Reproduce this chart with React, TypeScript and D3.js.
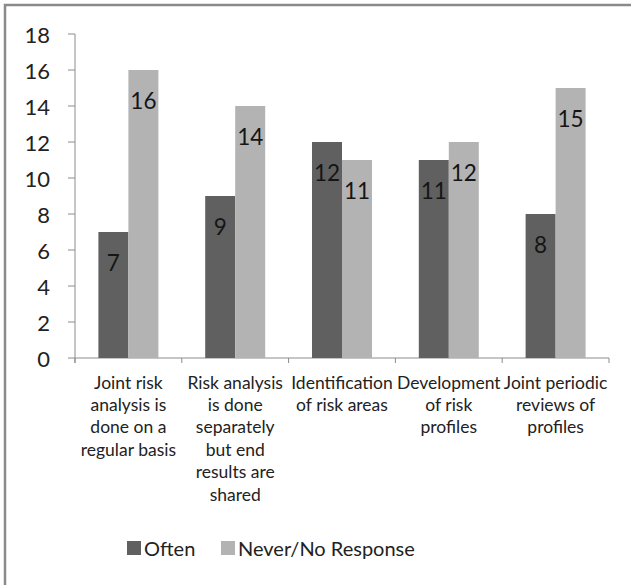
import React from "react";
import * as d3 from "d3";

const categories = [
  "Joint risk analysis is done on a regular basis",
  "Risk analysis is done separately but end results are shared",
  "Identification of risk areas",
  "Development of risk profiles",
  "Joint periodic reviews of profiles",
];
const categoryLines = [
  ["Joint risk", "analysis is", "done on a", "regular basis"],
  ["Risk analysis", "is done", "separately", "but end", "results are", "shared"],
  ["Identification", "of risk areas"],
  ["Development", "of risk", "profiles"],
  ["Joint periodic", "reviews of", "profiles"],
];
const seriesNames = ["Often", "Never/No Response"];
const oftenValues = [7, 9, 12, 11, 8];
const neverValues = [16, 14, 11, 12, 15];
const yTicks = [0, 2, 4, 6, 8, 10, 12, 14, 16, 18];
const seriesColors = ["#606060", "#b3b3b3"];

const W = 631;
const H = 585;
const FONT = "Lato, 'Open Sans', sans-serif";

export default function App() {
  const x0 = 75;
  const x1 = 609;
  const yBase = 358;
  const yTop = 34;

  const x = d3.scaleBand<string>().domain(categories).range([x0, x1]).padding(0);
  const inner = d3
    .scaleBand<string>()
    .domain(seriesNames)
    .range([0, x.bandwidth()])
    .paddingInner(0)
    .paddingOuter(0.78);
  const y = d3.scaleLinear().domain([0, 18]).range([yBase, yTop]);

  const series = [oftenValues, neverValues];

  const boundaries = categories.map((c) => x(c) as number).concat([x1]);

  return (
    <svg
      width={W}
      height={H}
      style={{ position: "absolute", left: 0, top: 0, background: "#fff" }}
      fontFamily={FONT}
      fontWeight={400}
    >
      <rect x={0} y={0} width={W} height={H} fill="#fff" />
      <rect x={5} y={5} width={W + 50} height={H + 50} fill="none" stroke="#8a8a8a" strokeWidth={2.5} />

      {/* y axis */}
      <line x1={x0} x2={x0} y1={yTop} y2={yBase + 5} stroke="#8c8c8c" strokeWidth={1} />
      {yTicks.map((t) => (
        <g key={t}>
          <line x1={x0 - 7} x2={x0} y1={y(t)} y2={y(t)} stroke="#8c8c8c" strokeWidth={1} />
          <text
            x={50}
            y={y(t)}
            textAnchor="end"
            dominantBaseline="central"
            fontSize={22}
            fill="#222"
          >
            {t}
          </text>
        </g>
      ))}

      {/* x axis */}
      <line x1={x0} x2={x1} y1={yBase} y2={yBase} stroke="#8c8c8c" strokeWidth={1} />
      {boundaries.map((b, i) => (
        <line key={i} x1={b} x2={b} y1={yBase} y2={yBase + 5} stroke="#8c8c8c" strokeWidth={1} />
      ))}

      {/* bars */}
      {categories.map((c, ci) => (
        <g key={c}>
          {series.map((vals, si) => {
            const bx = (x(c) as number) + (inner(seriesNames[si]) as number);
            const bw = inner.bandwidth();
            const v = vals[ci];
            return (
              <g key={si}>
                <rect
                  x={bx}
                  y={y(v)}
                  width={bw}
                  height={yBase - y(v)}
                  fill={seriesColors[si]}
                />
                <text
                  x={bx + bw / 2}
                  y={y(v) + 30}
                  textAnchor="middle"
                  dominantBaseline="central"
                  fontSize={22.5}
                  fill="#151515"
                >
                  {v}
                </text>
              </g>
            );
          })}
        </g>
      ))}

      {/* category labels */}
      {categories.map((c, ci) => (
        <text
          key={c}
          x={(x(c) as number) + x.bandwidth() / 2}
          textAnchor="middle"
          fontSize={17.5}
          fill="#222"
        >
          {categoryLines[ci].map((ln, li) => (
            <tspan key={li} x={(x(c) as number) + x.bandwidth() / 2} y={382 + li * 22.4} dominantBaseline="central">
              {ln}
            </tspan>
          ))}
        </text>
      ))}

      {/* legend */}
      <g>
        <rect x={127} y={541} width={14} height={14} fill={seriesColors[0]} />
        <text x={144} y={548} dominantBaseline="central" fontSize={20} fill="#222">
          {seriesNames[0]}
        </text>
        <rect x={221} y={541} width={14} height={14} fill={seriesColors[1]} />
        <text x={238} y={548} dominantBaseline="central" fontSize={20} fill="#222">
          {seriesNames[1]}
        </text>
      </g>
    </svg>
  );
}
